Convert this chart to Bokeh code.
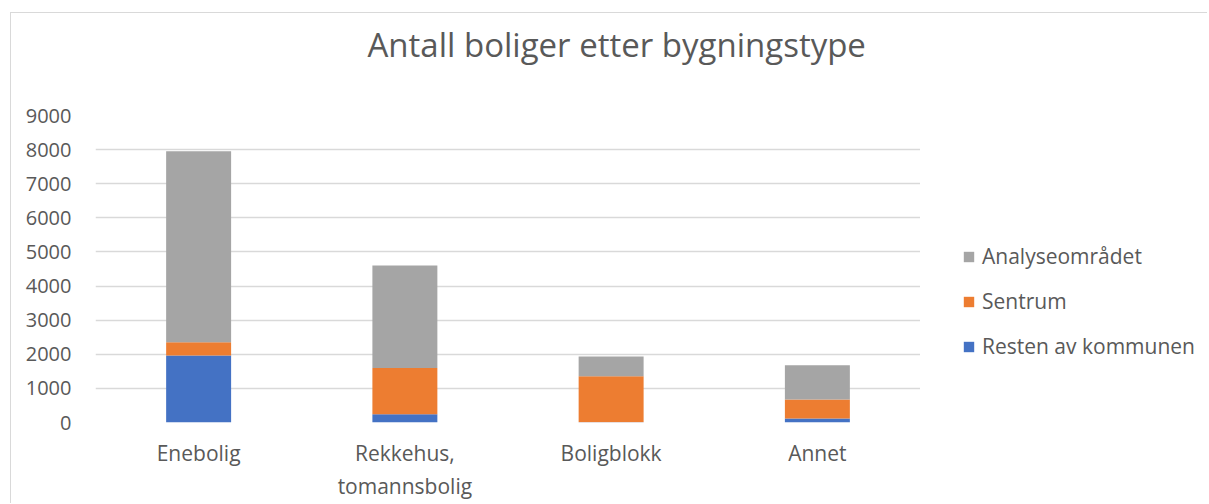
from bokeh.plotting import figure
from bokeh.layouts import row
from bokeh.models import FactorRange, Range1d, Legend, LegendItem, FixedTicker, ColumnDataSource, Title
from bokeh.embed import file_html
from bokeh.resources import INLINE

categories = ["Enebolig", "Rekkehus,\ntomannsbolig", "Boligblokk", "Annet"]
resten = [1965, 245, 10, 115]
sentrum = [390, 1350, 1348, 560]
analyse = [5600, 3010, 577, 1000]
series = ["Resten av kommunen", "Sentrum", "Analyseområdet"]
colors = ["#4472C4", "#ED7D31", "#A5A5A5"]
y_ticks = [0, 1000, 2000, 3000, 4000, 5000, 6000, 7000, 8000, 9000]

FONT = "Open Sans"
TXT = "#595959"

source = ColumnDataSource(dict(cat=categories, r=resten, s=sentrum, a=analyse))

p = figure(x_range=FactorRange(*categories, range_padding=0), y_range=Range1d(0, 9000),
           width=909, height=490, output_backend="svg", toolbar_location=None,
           min_border_left=84, min_border_right=0, min_border_top=102, min_border_bottom=81)

renderers = p.vbar_stack(["r", "s", "a"], x="cat", width=0.315, color=colors, source=source,
                         line_color=None)

p.title.text = "Antall boliger etter bygningstype"
p.title.align = "left"
p.title.offset = 272
p.title.standoff = 0
p.title.text_font = FONT
p.title.text_font_style = "normal"
p.title.text_font_size = "33px"
p.title.text_color = TXT

# invisible spacer between the title and the plot area
p.add_layout(Title(text=" ", text_font_size="1px", standoff=46), "above")

p.outline_line_color = None
p.xgrid.grid_line_color = None
p.ygrid.grid_line_color = "#D9D9D9"
p.ygrid.grid_line_width = 1.3

p.yaxis.ticker = FixedTicker(ticks=y_ticks)
p.yaxis.axis_line_color = None
p.yaxis.major_tick_line_color = None
p.yaxis.major_tick_out = 0
p.yaxis.minor_tick_line_color = None
p.yaxis.major_label_text_font = FONT
p.yaxis.major_label_text_font_size = "20px"
p.yaxis.major_label_text_color = TXT
p.yaxis.major_label_standoff = 24

p.xaxis.axis_line_color = None
p.xaxis.major_tick_line_color = None
p.xaxis.major_tick_out = 0
p.xaxis.major_label_text_font = FONT
p.xaxis.major_label_text_font_size = "21px"
p.xaxis.major_label_text_color = TXT
p.xaxis.major_label_standoff = 16

# legend lives in its own small figure to the right of the plot
lp = figure(width=287, height=490, output_backend="svg", toolbar_location=None,
            x_axis_type=None, y_axis_type=None, min_border=0,
            x_range=Range1d(0, 1), y_range=Range1d(0, 1))
lp.outline_line_color = None
lp.grid.grid_line_color = None
# legend proxies, kept outside the visible range
proxies = [lp.rect(x=[-5], y=[-5], width=1, height=1, color=c, line_color=None) for c in colors]

items = [LegendItem(label=series[i], renderers=[proxies[i]]) for i in [2, 1, 0]]
legend = Legend(items=items, location=(42, 62), orientation="vertical",
                label_text_font=FONT, label_text_font_size="21px", label_text_color=TXT,
                glyph_width=13, glyph_height=13, label_standoff=7, spacing=17,
                padding=0, margin=0,
                border_line_color=None, background_fill_alpha=0)
lp.add_layout(legend, "center")

layout = row(p, lp, spacing=0)
layout.styles = {"border-left": "1px solid #D9D9D9", "border-top": "1px solid #D9D9D9",
                 "margin-left": "10px", "margin-top": "12px"}

open("out.html", "w").write(file_html(layout, INLINE))
